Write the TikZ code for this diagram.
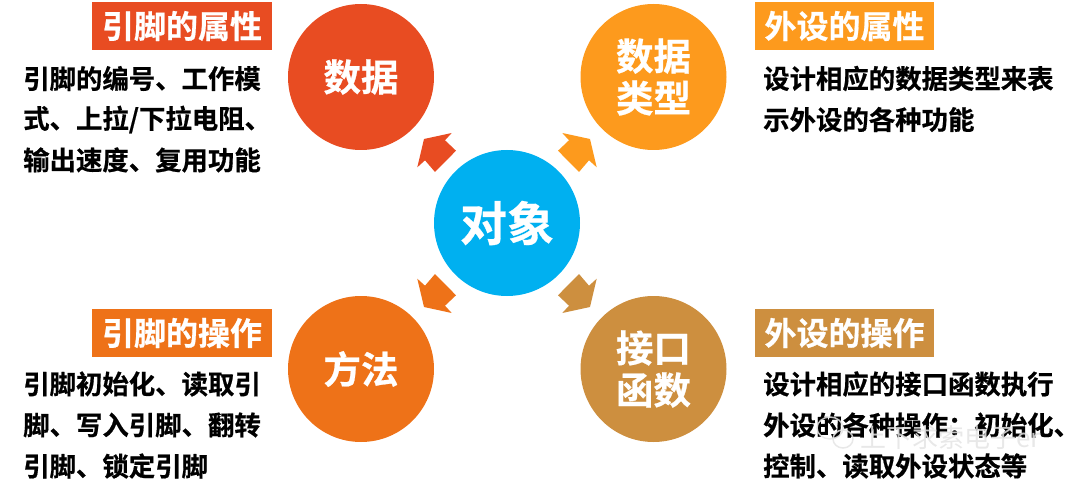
\documentclass[tikz,border=0pt]{standalone}
\usepackage{fontspec}
\setmainfont{Noto Sans CJK SC}[BoldFont={Noto Sans CJK SC Bold}]
\newfontfamily\cjkb{Noto Sans CJK SC Bold}[FakeBold=0.6]
\definecolor{cred}{HTML}{E84C22}
\definecolor{cyel}{HTML}{FD9A1D}
\definecolor{cora}{HTML}{EE7218}
\definecolor{cbrn}{HTML}{CD8F3F}
\definecolor{ccya}{HTML}{00B0F0}
\definecolor{wmark}{HTML}{E4E4E4}
\newcommand{\fs}[1]{\fontsize{#1}{#1}\selectfont}
\tikzset{
  disc/.style={circle,minimum size=146pt,inner sep=0pt,align=center,text=white,font=\cjkb\fs{37.5}},
  titlebar/.style={minimum width=180pt,minimum height=48pt,inner sep=0pt,text=white,font=\cjkb\fs{32}},
  bodyline/.style={anchor=west,inner sep=0pt,text=black,font=\cjkb\fs{26.4}},
  arrowhd/.pic={\fill[pic actions] (-55.3,-90) -- (-83,-84) -- (-89.7,-55.7) -- (-82,-62.7) -- (-72,-51) -- (-51,-72.3) -- (-62,-82.7) -- cycle;}
}
\begin{document}
\begin{tikzpicture}[x=1pt,y=-1pt]
\useasboundingbox (0,0) rectangle (1080,484);
\node[disc,fill=ccya,font=\cjkb\fs{47}] (obj) at (507,223) {对象};
\node[disc,fill=cred] (data) at (361,77) {数据};
\node[disc,fill=cyel,align=center] (dtype) at (653.5,77) {数据\\[4.5pt]类型};
\node[disc,fill=cora] (meth) at (361,369) {方法};
\node[disc,fill=cbrn,align=center] (func) at (653.5,369) {接口\\[4.5pt]函数};
\path (obj.center) pic[fill=cred] {arrowhd};
\path (obj.center) pic[fill=cyel,xscale=-1] {arrowhd};
\path (obj.center) pic[fill=cora,yscale=-1] {arrowhd};
\path (obj.center) pic[fill=cbrn,xscale=-1,yscale=-1] {arrowhd};
\node[titlebar,fill=cred] (t1) at (182,26) {引脚的属性};
\node[titlebar,fill=cyel,minimum width=179pt] (t2) at (844.5,26) {外设的属性};
\node[titlebar,fill=cora] (t3) at (182,333) {引脚的操作};
\node[titlebar,fill=cbrn,minimum width=179pt] (t4) at (844.5,333) {外设的操作};
\node[bodyline] (a1) at (23,78.5) {引脚的编号、工作模};
\node[bodyline] (a2) at (23,119.5) {式、上拉/下拉电阻、};
\node[bodyline] (a3) at (23,160) {输出速度、复用功能};
\node[bodyline] (b1) at (763,78.5) {设计相应的数据类型来表};
\node[bodyline] (b2) at (763,119.5) {示外设的各种功能};
\node[bodyline] (c1) at (23,384) {引脚初始化、读取引};
\node[bodyline] (c2) at (23,425) {脚、写入引脚、翻转};
\node[bodyline] (c3) at (23,466) {引脚、锁定引脚};
\node[bodyline] (d1) at (763,384) {设计相应的接口函数执行};
\node[bodyline] (d2) at (763,425) {外设的各种操作：初始化、};
\node[bodyline] (d3) at (763,466) {控制、读取外设状态等};
\node[anchor=west,inner sep=0pt,text=wmark,opacity=.85,font=\fs{26}] (wm) at (860,438) {上下求索电子er};
\draw[wmark,opacity=.85,line width=1.5pt] (830,428) ellipse (13 and 11);
\draw[wmark,opacity=.85,line width=1.5pt] (843,439) ellipse (10 and 9);
\end{tikzpicture}
\end{document}
